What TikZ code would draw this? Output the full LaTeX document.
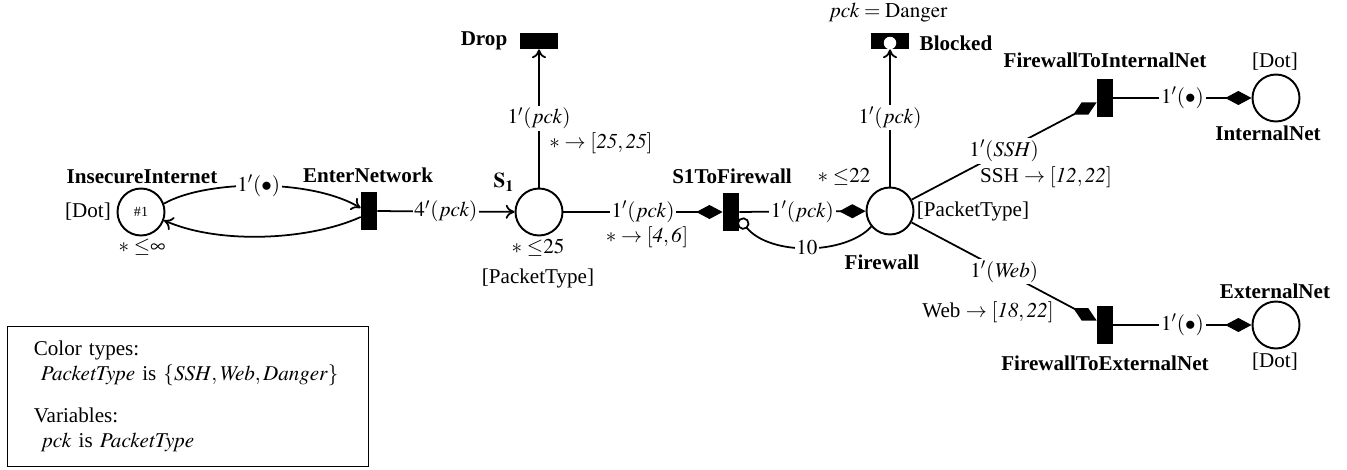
\documentclass[tikz,border=0pt,12pt]{standalone}
\usepackage{mathptmx}
\usepackage[no-math]{fontspec}
\setmainfont{Liberation Serif}
\usetikzlibrary{arrows.meta}

\begin{document}
\begin{tikzpicture}[x=0.02cm, y=-0.02cm,
    place/.style={circle, draw, line width=1.1pt, minimum size=0.94cm, inner sep=0pt},
    trans/.style={rectangle, fill=black, minimum width=0.32cm, minimum height=0.76cm, inner sep=0pt},
    transH/.style={trans, minimum width=0.76cm, minimum height=0.32cm},
    flow/.style={line width=1pt},
    arr/.style={flow, -{To[length=5pt,width=8pt]}},
    transport/.style={flow, -{Diamond[length=15pt,width=8pt]}},
    inhib/.style={flow, -{Circle[length=7pt,fill=white]}},
    lbl/.style={fill=white, inner sep=1pt},
    note/.style={inner sep=1pt},
    title/.style={note, font=\bfseries}]

        \useasboundingbox (0,0) rectangle (1347,470);

        %% places
        \node[place] (insecure) at (141,212) {\scriptsize\#1};
        \node[place] (sOne) at (539,212) {};
        \node[place] (firewall) at (890,211) {};
        \node[place] (intNet) at (1276,98) {};
        \node[place] (extNet) at (1276,325) {};

        %% transitions
        \node[trans] (enter) at (369,211) {};
        \node[transH] (drop) at (539,41) {};
        \node[trans] (sToFw) at (731,212) {};
        \node[transH] (blocked) at (890,41) {};
        \fill[white] (890,43) circle (0.125cm); % urgent mark
        \node[trans] (fwToInt) at (1105,98) {};
        \node[trans] (fwToExt) at (1105,325) {};

        % arcs
        \draw[arr] (insecure.20) .. controls (205,180) and (310,178) .. node[lbl] (inDot) {$1'(\bullet)$} ([yshift=0.06cm]enter.west);
        \draw[arr] ([yshift=-0.12cm]enter.west) .. controls (310,240) and (220,245) .. (insecure.-20);
        \draw[arr] (enter) -- node[lbl] (enterPck) {$4'(pck)$} (sOne);
        \draw[arr] (sOne) -- node[lbl] (dropPck) {$1'(pck)$} (drop);
        \draw[transport] (sOne) -- node[lbl] (sOnePck) {$1'(pck)$} (sToFw);
        \draw[transport] (sToFw) -- node[lbl] (fwPck) {$1'(pck)$} (firewall);
        \draw[inhib] (firewall.220) .. controls (845,255) and (770,256) .. node[lbl] (inhibTen) {$10$} ([yshift=0.25cm]sToFw.south east); % inhibitor
        \draw[arr] (firewall) -- node[lbl] (blockPck) {$1'(pck)$} (blocked);
        \draw[transport] (firewall) -- node[lbl] (sshPck) {$1'(\mathit{SSH})$} (fwToInt);
        \draw[transport] (firewall) -- node[lbl] (webPck) {$1'(\mathit{Web})$} (fwToExt);
        \draw[transport] (fwToInt) -- node[lbl] (intDot) {$1'(\bullet)$} (intNet);
        \draw[transport] (fwToExt) -- node[lbl] (extDot) {$1'(\bullet)$} (extNet);

        % labels
        \node[title] (insecureTtl) at (142,177) {InsecureInternet};
        \node[note] (insecureCol) at (88,212) {[Dot]};
        \node[note] (insecureCap) at (142,247) {$\ast\;{\leq}\infty$};
        \node[title] (enterTtl) at (368,175) {EnterNetwork};
        \node[note] (sOneTtl) at (504,182) {$\mathbf{S_1}$};
        \node[note] (sOneCap) at (538,248) {$\ast\;{\leq}25$};
        \node[note] (sOneCol) at (538,278) {[PacketType]};
        \node[title] (dropTtl) at (484,41) {Drop};
        \node[note] (dropAge) at (601,143) {$\ast\rightarrow[\mathit{25},\mathit{25}]$};
        \node[note] (sOneAge) at (647,237) {$\ast\rightarrow[\mathit{4},\mathit{6}]$};
        \node[title] (sToFwTtl) at (732,176) {S1ToFirewall};
        \node[note] (fwCap) at (844,177) {$\ast\;{\leq}22$};
        \node[note] (fwCol) at (973,211) {[PacketType]};
        \node[title] (fwTtl) at (882,262) {Firewall};
        \node[title] (blockedTtl) at (956,43) {Blocked};
        \node[note] (blockedGuard) at (888,13) {$pck = \mathrm{Danger}$};
        \node[title] (fwToIntTtl) at (1105,60) {FirewallToInternalNet};
        \node[note] (sshAge) at (1046,177) {SSH $\rightarrow[\mathit{12},\mathit{22}]$};
        \node[note] (intCol) at (1275,62) {[Dot]};
        \node[title] (intTtl) at (1268,133) {InternalNet};
        \node[note] (webAge) at (988,312) {Web $\rightarrow[\mathit{18},\mathit{22}]$};
        \node[title] (fwToExtTtl) at (1105,363) {FirewallToExternalNet};
        \node[title] (extTtl) at (1275,291) {ExternalNet};
        \node[note] (extCol) at (1275,362) {[Dot]};

        % declarations
        \node[draw, anchor=north west, text width=6.17cm, minimum height=2.8cm, inner xsep=0.53cm, align=left] (decls) at (7,326)
            {Color types:\\
             \ $\mathit{PacketType}$ is $\{\mathit{SSH},\mathit{Web},\mathit{Danger}\}$\\[9pt]
             Variables:\\
             \ $pck$ is $\mathit{PacketType}$};
    \end{tikzpicture}
\end{document}
